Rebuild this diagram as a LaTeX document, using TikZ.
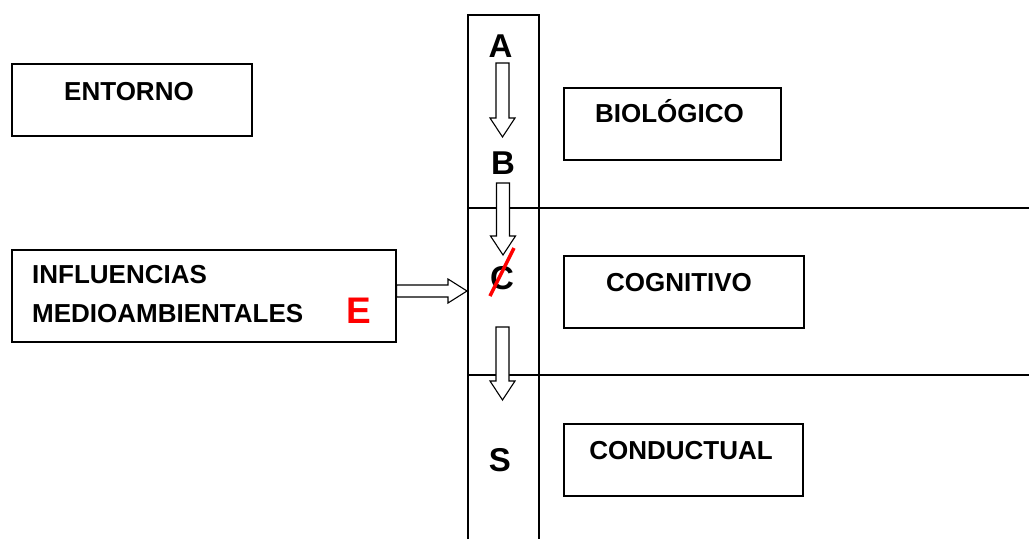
\documentclass[tikz,border=0pt]{standalone}
\usepackage{fontspec}
\setmainfont{Liberation Sans}
\usetikzlibrary{calc}

% hollow block arrow pointing down, shaft starts at #1, tip at #2
\newcommand\blockdown[2]{%
  \draw[blockarrow] let \p1=(#1), \p2=(#2) in
    (\x1-6.5pt,\y1) -- (\x1+6.5pt,\y1) -- (\x1+6.5pt,\y2+19pt) --
    (\x1+12.5pt,\y2+19pt) -- (\x1,\y2) -- (\x1-12.5pt,\y2+19pt) --
    (\x1-6.5pt,\y2+19pt) -- cycle;}
% hollow block arrow pointing right, shaft starts at #1, tip at #2
\newcommand\blockright[2]{%
  \draw[blockarrow] let \p1=(#1), \p2=(#2) in
    (\x1,\y1+6pt) -- (\x2-19pt,\y1+6pt) -- (\x2-19pt,\y1+12pt) --
    (\x2,\y1) -- (\x2-19pt,\y1-12pt) -- (\x2-19pt,\y1-6pt) --
    (\x1,\y1-6pt) -- cycle;}

\begin{document}
\begin{tikzpicture}[x=1pt,y=-1pt,
  frame/.style={draw=black, line width=1.6pt, inner sep=0pt, anchor=north west},
  rule/.style={draw=black, line width=1.6pt},
  boxlabel/.style={font=\fontsize{26}{30}\selectfont\bfseries, inner sep=0pt, anchor=base},
  letter/.style={font=\fontsize{33}{38}\selectfont\bfseries, inner sep=0pt, anchor=base},
  blockarrow/.style={draw=black, fill=white, line width=1.1pt, line join=miter}]
\useasboundingbox (0,0) rectangle (1029,539);

% left column: environment boxes
\node[frame, minimum width=240, minimum height=72] (entorno) at (11,63) {};
\node[boxlabel] (entornotxt) at (129,100) {ENTORNO};

\node[frame, minimum width=384, minimum height=92] (influ) at (11,249) {};
\node[boxlabel, anchor=base west] (influ1) at (32,283) {INFLUENCIAS};
\node[boxlabel, anchor=base west] (influ2) at (32,322) {MEDIOAMBIENTALES};
\node[letter, text=red, font=\fontsize{37}{42}\selectfont\bfseries] (e) at (359,323) {E};

% central column and the row separators
\draw[rule] (468,539) -- (468,15) -- (539,15) -- (539,539);
\draw[rule] (468,208) -- (1029,208);
\draw[rule] (468,375) -- (1029,375);

% sequence letters
\node[letter] (A) at (500.5,57) {A};
\node[letter] (B) at (503,174) {B};
\node[letter] (C) at (502,289) {C};
\node[letter] (S) at (500,471) {S};

% right column: levels
\node[frame, minimum width=217, minimum height=72] (bio) at (563,87) {};
\node[boxlabel] (biotxt) at (669.5,122) {BIOLÓGICO};
\node[frame, minimum width=240, minimum height=72] (cog) at (563,255) {};
\node[boxlabel] (cogtxt) at (679,291) {COGNITIVO};
\node[frame, minimum width=239, minimum height=72] (con) at (563,423) {};
\node[boxlabel] (context) at (681,459) {CONDUCTUAL};

% arrow end points
\coordinate (ab0) at (502.5,63);  \coordinate (ab1) at (502.5,137);
\coordinate (bc0) at (503,183);   \coordinate (bc1) at (503,255);
\coordinate (cs0) at (502.5,327); \coordinate (cs1) at (502.5,400);
\coordinate (ec0) at (influ.east |- 0,291); \coordinate (ec1) at (467,291);

\blockdown{ab0}{ab1}
\blockdown{bc0}{bc1}
\blockdown{cs0}{cs1}
\blockright{ec0}{ec1}

% C struck through
\draw[red, line width=3.5pt] (490,296) -- (514,248);
\end{tikzpicture}
\end{document}
